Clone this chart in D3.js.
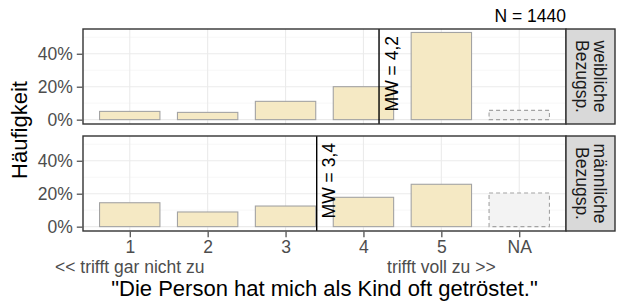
<!DOCTYPE html>
<html>
<head>
<meta charset="utf-8">
<script src="https://cdn.jsdelivr.net/npm/d3@7"></script>
<style>
  body { margin: 0; background: #fff; }
  text { font-family: "Liberation Sans", Arial, sans-serif; }
</style>
</head>
<body>
<div id="chart"></div>
<script>
// data
var categories = ["1", "2", "3", "4", "5", "NA"];
var panels = ["weibliche\nBezugsp.", "männliche\nBezugsp."];
var femaleValues = [0.050, 0.044, 0.111, 0.200, 0.529, 0.056];
var maleValues = [0.145, 0.089, 0.125, 0.178, 0.257, 0.204];
var means = [4.2, 3.4];
var meanLabels = ["MW = 4,2", "MW = 3,4"];
var yTicks = [0, 0.2, 0.4];
var yMinor = [0.1, 0.3, 0.5];

var seriesValues = [femaleValues, maleValues];

// canvas
var svgWidth = 617;
var svgHeight = 302;

var plotLeft = 83;
var plotRight = 566;
var stripWidth = 49;
var panelTops = [29, 136];
var panelHeight = 95;

var svg = d3.select("#chart")
    .append("svg")
    .attr("width", svgWidth)
    .attr("height", svgHeight);

// discrete x scale with ggplot-like expansion (0.6 on each side)
var n = categories.length;
var step = (plotRight - plotLeft) / (n + 1.2);
var xScale = d3.scaleLinear()
    .domain([0.4, n + 0.6])
    .range([plotLeft, plotRight]);
var xCat = function(c) { return xScale(categories.indexOf(c) + 1); };
var barWidth = step * 0.9;

var yScale = d3.scaleLinear()
    .domain([-0.0265, 0.55])
    .range([panelHeight, 0]);

panels.forEach(function(label, p) {
    var g = svg.append("g")
        .attr("transform", `translate(0, ${panelTops[p]})`);

    // background grid
    g.selectAll(".yminor").data(yMinor).enter().append("line")
        .attr("x1", plotLeft).attr("x2", plotRight)
        .attr("y1", d => yScale(d)).attr("y2", d => yScale(d))
        .attr("stroke", "#F2F2F2").attr("stroke-width", 0.6);
    g.selectAll(".ymajor").data(yTicks).enter().append("line")
        .attr("x1", plotLeft).attr("x2", plotRight)
        .attr("y1", d => yScale(d)).attr("y2", d => yScale(d))
        .attr("stroke", "#EBEBEB").attr("stroke-width", 1.1);
    g.selectAll(".xmajor").data(categories).enter().append("line")
        .attr("x1", d => xCat(d)).attr("x2", d => xCat(d))
        .attr("y1", 0).attr("y2", panelHeight)
        .attr("stroke", "#EBEBEB").attr("stroke-width", 1.1);

    // bars
    var rows = categories.map((c, i) => ({ cat: c, value: seriesValues[p][i] }));
    g.selectAll(".bar").data(rows).enter().append("rect")
        .attr("x", d => xCat(d.cat) - barWidth / 2)
        .attr("width", barWidth)
        .attr("y", d => yScale(d.value))
        .attr("height", d => yScale(0) - yScale(d.value))
        .attr("fill", d => d.cat === "NA" ? "#F3F3F3" : "#F5E9C4")
        .attr("stroke", "#A3A3A3")
        .attr("stroke-width", 1.1)
        .attr("stroke-dasharray", d => d.cat === "NA" ? "4,3" : null);

    // mean line + label
    var mx = xScale(means[p]);
    g.append("line")
        .attr("x1", mx).attr("x2", mx)
        .attr("y1", 0).attr("y2", panelHeight)
        .attr("stroke", "#000").attr("stroke-width", 1.4);
    g.append("text")
        .attr("transform", `translate(${mx + 18.5}, 7) rotate(-90)`)
        .attr("text-anchor", "end")
        .attr("font-size", 17.5)
        .attr("fill", "#000")
        .text(meanLabels[p]);

    // panel border
    g.append("rect")
        .attr("x", plotLeft).attr("y", 0)
        .attr("width", plotRight - plotLeft).attr("height", panelHeight)
        .attr("fill", "none").attr("stroke", "#333333").attr("stroke-width", 1.4);

    // y axis
    var leftAxis = d3.axisLeft(yScale)
        .tickValues(yTicks)
        .tickSize(5.5)
        .tickPadding(4)
        .tickFormat(d3.format(".0%"));
    var ay = g.append("g")
        .attr("transform", `translate(${plotLeft - 0.7}, 0)`)
        .call(leftAxis);
    ay.select(".domain").remove();
    ay.selectAll(".tick line").attr("stroke", "#333333").attr("stroke-width", 1.1);
    ay.selectAll(".tick text").attr("fill", "#4D4D4D").attr("font-size", 17.5)
        .style("font-family", "Liberation Sans, Arial, sans-serif");

    // strip
    g.append("rect")
        .attr("x", plotRight).attr("y", 0)
        .attr("width", stripWidth).attr("height", panelHeight)
        .attr("fill", "#D9D9D9").attr("stroke", "#333333").attr("stroke-width", 1.4);
    var lines = label.split("\n");
    var st = g.append("text")
        .attr("transform", `translate(${plotRight + stripWidth / 2}, ${panelHeight / 2}) rotate(90)`)
        .attr("text-anchor", "middle")
        .attr("font-size", 17.5)
        .attr("fill", "#1A1A1A");
    lines.forEach(function(l, i) {
        st.append("tspan")
            .attr("x", 0)
            .attr("y", i === 0 ? -3.5 : 14.5)
            .text(l);
    });

    // x axis only on bottom panel
    if (p === panels.length - 1) {
        var bottomAxis = d3.axisBottom(xScale)
            .tickValues(d3.range(1, n + 1))
            .tickSize(5.5)
            .tickPadding(3)
            .tickFormat(d => categories[d - 1]);
        var ax = g.append("g")
            .attr("transform", `translate(0, ${panelHeight + 0.7})`)
            .call(bottomAxis);
        ax.select(".domain").remove();
        ax.selectAll(".tick line").attr("stroke", "#333333").attr("stroke-width", 1.1);
        ax.selectAll(".tick text").attr("fill", "#4D4D4D").attr("font-size", 17.5)
            .style("font-family", "Liberation Sans, Arial, sans-serif");
    }
});

// extra labels
svg.append("text")
    .attr("x", xCat("1")).attr("y", 273)
    .attr("text-anchor", "middle").attr("font-size", 17.5).attr("fill", "#4D4D4D")
    .text("<< trifft gar nicht zu");
svg.append("text")
    .attr("x", xCat("5")).attr("y", 273)
    .attr("text-anchor", "middle").attr("font-size", 17.5).attr("fill", "#4D4D4D")
    .text("trifft voll zu >>");

svg.append("text")
    .attr("x", plotRight).attr("y", 22)
    .attr("text-anchor", "end").attr("font-size", 17.5).attr("fill", "#000")
    .text("N = 1440");

svg.append("text")
    .attr("x", (plotLeft + plotRight) / 2).attr("y", 296)
    .attr("text-anchor", "middle").attr("font-size", 22).attr("fill", "#000")
    .text("\"Die Person hat mich als Kind oft getröstet.\"");

svg.append("text")
    .attr("transform", `translate(27, ${(panelTops[0] + panelTops[1] + panelHeight) / 2}) rotate(-90)`)
    .attr("text-anchor", "middle").attr("font-size", 22).attr("fill", "#000")
    .text("Häufigkeit");
</script>
</body>
</html>
